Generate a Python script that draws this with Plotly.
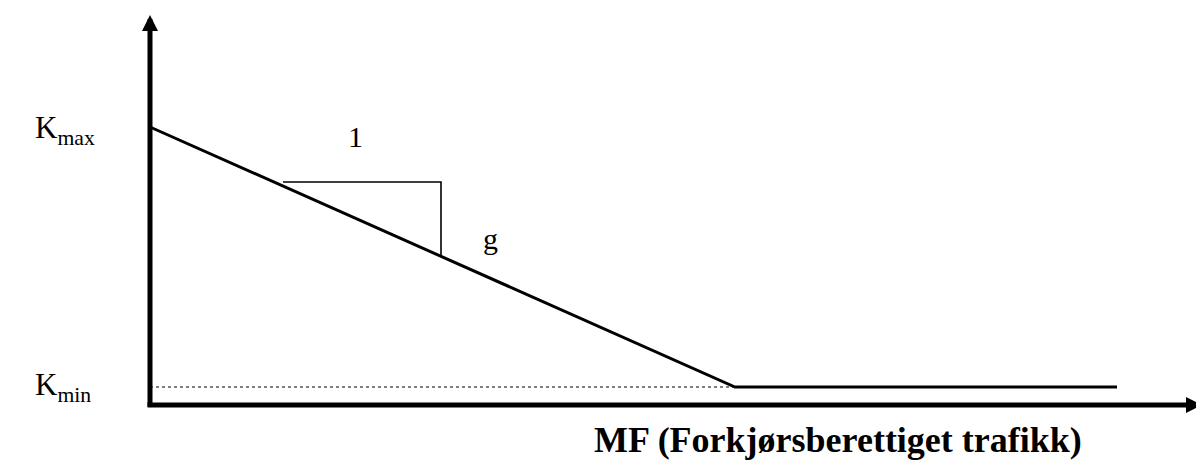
import plotly.graph_objects as go

# Data (abstract units; origin where the two axes meet)
mf_curve = [0, 585, 967]          # MF (Forkjørsberettiget trafikk)
k_curve = [278, 18, 18]           # K values: Kmax -> Kmin -> Kmin
k_max = 278
k_min = 18
mf_break = 585

# slope triangle ("1" horizontal, "g" vertical)
tri_x = [133, 291, 291]
tri_y = [223, 223, 150]

# axis extents (tail, tip)
yaxis_tail = (0, -3)
yaxis_tip = (0, 390)
xaxis_tail = (-4, 0)
xaxis_tip = (1052, 0)

FONT = "Liberation Serif, Times New Roman, serif"

fig = go.Figure()

# K-min dotted reference
fig.add_trace(go.Scatter(x=[0, mf_break], y=[k_min, k_min], mode="lines",
                         line=dict(color="black", width=1.2, dash="dot"),
                         hoverinfo="skip"))
# main curve
fig.add_trace(go.Scatter(x=mf_curve, y=k_curve, mode="lines",
                         line=dict(color="black", width=3), hoverinfo="skip"))
# triangle
fig.add_trace(go.Scatter(x=tri_x, y=tri_y, mode="lines",
                         line=dict(color="black", width=1.6), hoverinfo="skip"))

# axes as arrows
for tail, tip in [(yaxis_tail, yaxis_tip), (xaxis_tail, xaxis_tip)]:
    fig.add_annotation(x=tip[0], y=tip[1], ax=tail[0], ay=tail[1],
                       xref="x", yref="y", axref="x", ayref="y",
                       text="", showarrow=True, arrowhead=2,
                       arrowwidth=5, arrowsize=0.64, arrowcolor="black")

ann = dict(showarrow=False, font=dict(family=FONT, size=31, color="black"))
fig.add_annotation(x=-117, y=k_max - 3, text="K<sub>max</sub>", xanchor="left",
                   yanchor="middle", **ann)
fig.add_annotation(x=-117, y=k_min, text="K<sub>min</sub>", xanchor="left",
                   yanchor="middle", **ann)
ann2 = dict(showarrow=False, font=dict(family=FONT, size=30, color="black"))
fig.add_annotation(x=205, y=269, text="1", xanchor="center", yanchor="middle", **ann2)
fig.add_annotation(x=340, y=167, text="g", xanchor="center", yanchor="middle", **ann2)
fig.add_annotation(x=688, y=-35, text="<b>MF (Forkjørsberettiget trafikk)</b>",
                   xanchor="center", yanchor="middle",
                   showarrow=False, font=dict(family=FONT, size=36, color="black"))

fig.update_layout(
    width=1196, height=460,
    margin=dict(l=0, r=0, t=0, b=0),
    plot_bgcolor="white", paper_bgcolor="white",
    showlegend=False,
    xaxis=dict(range=[-142, 1054], visible=False, fixedrange=True),
    yaxis=dict(range=[-63, 397], visible=False, fixedrange=True),
)

fig.write_html("out.html")
